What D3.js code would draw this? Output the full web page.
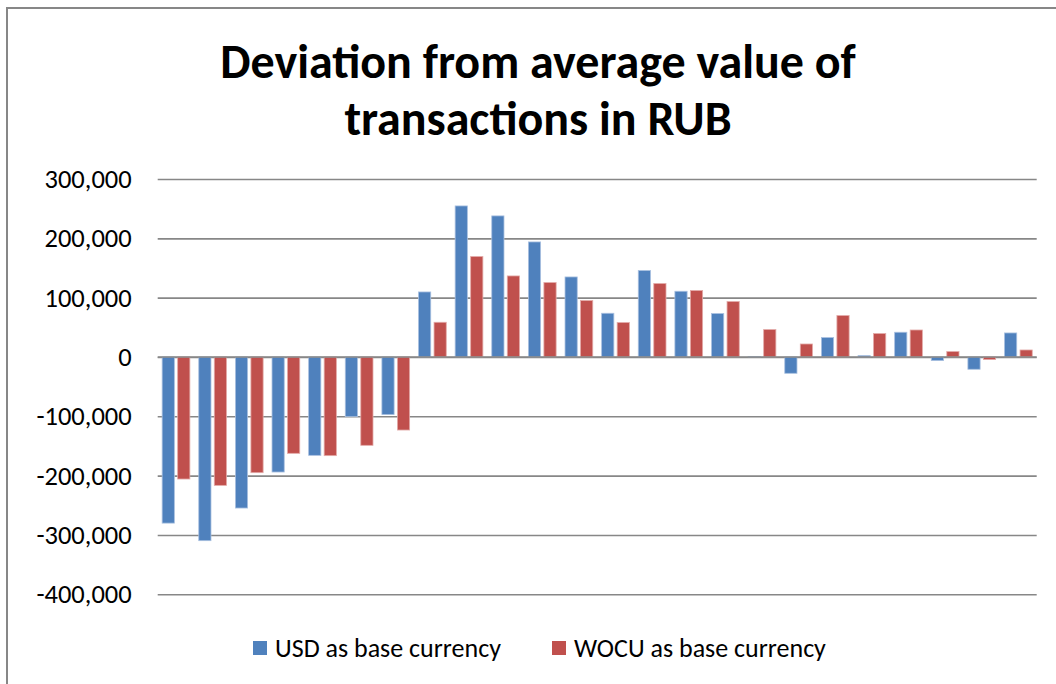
<!DOCTYPE html>
<html>
<head>
<meta charset="utf-8">
<script src="https://cdn.jsdelivr.net/npm/d3@7"></script>
<style>
  body { margin: 0; background: #fff; }
  text { font-family: Carlito, Calibri, Lato, "Open Sans", sans-serif; fill: #000; }
</style>
</head>
<body>
<script>
// ---------------------------- data ----------------------------
var categories = [1, 2, 3, 4, 5, 6, 7, 8, 9, 10, 11, 12, 13, 14, 15, 16, 17, 18, 19, 20, 21, 22, 23, 24];
var seriesNames = ["USD as base currency", "WOCU as base currency"];
var usdValues = [-280000, -309600, -254600, -193900, -165800, -100500, -97100, 109600,
  254600, 237800, 193900, 134900, 73700, 145700, 110800, 73200,
  1000, -27500, 32700, 2300, 41700, -6100, -20700, 40500];
var wocuValues = [-205700, -216400, -195000, -162400, -166300, -148900, -123100, 58500,
  169300, 136600, 125400, 95100, 58000, 123800, 112000, 93400,
  46200, 21900, 69800, 39500, 45500, 9100, -4400, 11800];
var yTicks = [-400000, -300000, -200000, -100000, 0, 100000, 200000, 300000];
var titleLines = ["Deviation from average value of", "transactions in RUB"];

var colors = { "USD as base currency": "#4f81bd", "WOCU as base currency": "#c0504d" };
var strokes = { "USD as base currency": "#a9c0e0", "WOCU as base currency": "#e3aaa8" };

var width = 1056, height = 684;
var plot = { left: 157.7, right: 1036.7, top: 179, bottom: 594.3 };

var svg = d3.select("body").append("svg")
  .attr("width", width)
  .attr("height", height);

// chart frame (only top and left edges are inside the picture)
svg.append("rect")
  .attr("x", 7).attr("y", 8)
  .attr("width", 1200).attr("height", 800)
  .attr("fill", "none")
  .attr("stroke", "#878787")
  .attr("stroke-width", 2);

// ---------------------------- scales ----------------------------
var x = d3.scaleBand()
  .domain(categories)
  .range([plot.left, plot.right])
  .paddingInner(0.243)
  .paddingOuter(0.1215);

var xInner = d3.scaleBand()
  .domain(seriesNames)
  .range([0, x.bandwidth()])
  .paddingInner(0.213);

var y = d3.scaleLinear()
  .domain([-400000, 300000])
  .range([plot.bottom, plot.top]);

// plain hyphen for negatives, like the original
var fmt = function (d) { return d3.format(",")(d).replace("\u2212", "-"); };

// gridlines + tick labels
var yAxis = d3.axisLeft(y)
  .tickValues(yTicks)
  .tickSize(-(plot.right - plot.left))
  .tickPadding(26)
  .tickFormat(fmt);

var gy = svg.append("g")
  .attr("transform", "translate(" + plot.left + ",0)")
  .call(yAxis);
gy.select(".domain").remove();
gy.selectAll(".tick line")
  .attr("stroke", "#878787")
  .attr("stroke-width", 1.6);
gy.selectAll(".tick text")
  .style("font-size", "26.5px")
  .attr("fill", "#000");

// ---------------------------- bars ----------------------------
var rows = categories.map(function (c, i) {
  return { cat: c, values: [
    { key: seriesNames[0], value: usdValues[i] },
    { key: seriesNames[1], value: wocuValues[i] }
  ] };
});

var group = svg.append("g")
  .selectAll("g")
  .data(rows)
  .enter()
  .append("g")
  .attr("transform", function (d) { return "translate(" + x(d.cat) + ",0)"; });

group.selectAll("rect")
  .data(function (d) { return d.values; })
  .enter()
  .append("rect")
  .attr("x", function (d) { return xInner(d.key); })
  .attr("width", xInner.bandwidth())
  .attr("y", function (d) { return y(Math.max(0, d.value)); })
  .attr("height", function (d) { return Math.abs(y(d.value) - y(0)); })
  .attr("fill", function (d) { return colors[d.key]; })
  .attr("stroke", function (d) { return strokes[d.key]; })
  .attr("stroke-width", 0.8);

// redraw zero line on top of bars
svg.append("line")
  .attr("x1", plot.left).attr("x2", plot.right)
  .attr("y1", y(0)).attr("y2", y(0))
  .attr("stroke", "#878787")
  .attr("stroke-width", 1.6);

// ---------------------------- title ----------------------------
svg.append("g")
  .selectAll("text")
  .data(titleLines)
  .enter()
  .append("text")
  .attr("x", 538)
  .attr("y", function (d, i) { return 78 + i * 57; })
  .attr("text-anchor", "middle")
  .style("font-size", "48px")
  .style("font-weight", "bold")
  .text(function (d) { return d; });

// ---------------------------- legend ----------------------------
var legendX = [253, 552];
var legend = svg.append("g")
  .selectAll("g")
  .data(seriesNames)
  .enter()
  .append("g")
  .attr("transform", function (d, i) { return "translate(" + legendX[i] + ",641)"; });

legend.append("rect")
  .attr("width", 14)
  .attr("height", 14)
  .attr("fill", function (d) { return colors[d]; });

legend.append("text")
  .attr("x", 22)
  .attr("y", 16)
  .style("font-size", "26px")
  .text(function (d) { return d; });
</script>
</body>
</html>
